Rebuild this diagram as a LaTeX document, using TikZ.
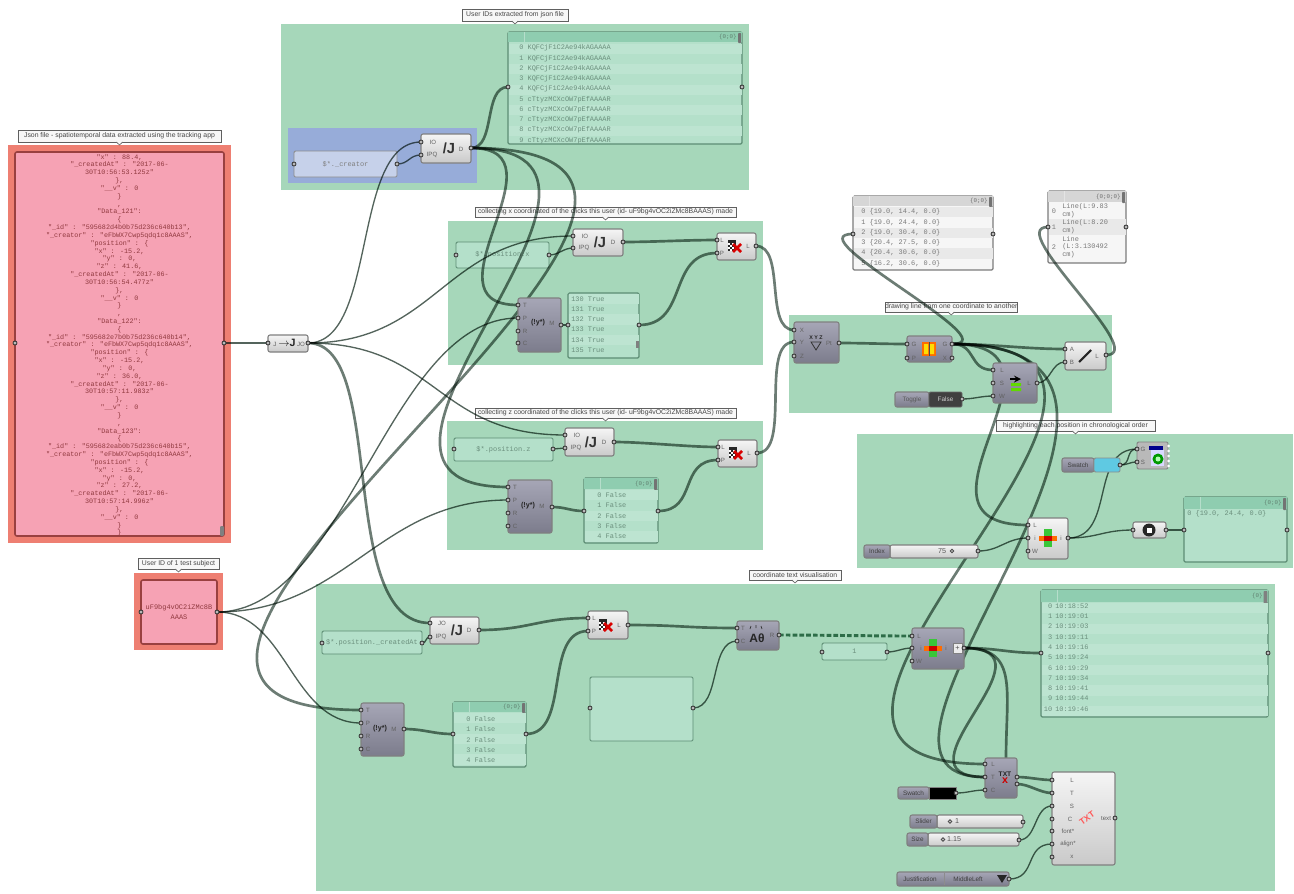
\documentclass[tikz,border=0pt]{standalone}
\usepackage{fontspec}
\setmainfont{Liberation Sans}
\newfontfamily\monof{Liberation Mono}
\pgfdeclarelayer{grp}
\pgfdeclarelayer{wires}
\pgfsetlayers{grp,wires,main}
\definecolor{grpgreen}{HTML}{A6D7BA}
\definecolor{grpblue}{HTML}{97ACD9}
\definecolor{grpred}{HTML}{EE7F72}
\definecolor{pinkp}{HTML}{F6A2B4}
\definecolor{pbodyg}{HTML}{B4E0CA}
\definecolor{pheadg}{HTML}{8FCDB0}
\definecolor{pstripeg}{HTML}{BDE4D1}
\definecolor{pedgeg}{HTML}{5D8D74}
\definecolor{pbodyw}{HTML}{F6F6F6}
\definecolor{pheadw}{HTML}{D6D6D6}
\definecolor{pstripew}{HTML}{E9E9E9}
\definecolor{pedgew}{HTML}{7C7C7C}
\definecolor{wirec}{RGB}{108,124,116}
\definecolor{wirethin}{RGB}{84,100,92}
\definecolor{wiredash}{RGB}{70,130,100}
\definecolor{txtg}{HTML}{6B8F7D}
\definecolor{txtw}{HTML}{7A7A7A}
\definecolor{darktop}{HTML}{A6A6B6}
\definecolor{darkbot}{HTML}{7C7C8C}
\definecolor{cyanp}{HTML}{5FC9E2}
\tikzset{
  x=0.75pt,y=-0.75pt,
  grpbox/.style={fill=grpgreen},
  capbox/.style={fill=gray!6,draw=gray!75!black,line width=0.6pt,font=\fontsize{5.15}{6}\selectfont,text=black!72},
  lightc/.style={draw=black!50,line width=0.8pt,rounded corners=1.5pt,top color=gray!8,bottom color=gray!42},
  darkc/.style={draw=black!50,line width=0.8pt,rounded corners=1.5pt,top color=darktop,bottom color=darkbot},
  parampanel/.style={fill=pbodyg,draw=pedgeg,line width=0.7pt,rounded corners=1pt},
  portn/.style={circle,draw=black!80,fill=gray!55,line width=0.6pt,minimum size=3pt,inner sep=0pt},
  plab/.style={font=\fontsize{4.6}{5}\selectfont,text=black!62,inner sep=0pt},
  monol/.style={font=\monof\fontsize{5.2}{6}\selectfont,text=txtg,inner sep=0pt},
  wthin/.style={draw=wirethin,blend mode=multiply,line width=1pt},
  wthick/.style={draw=wirec,blend mode=multiply,line width=2pt},
  wdash/.style={draw=wiredash,blend mode=multiply,line width=2.2pt,dash pattern=on 3.5pt off 1.6pt},
  jbig/.style={font=\bfseries\fontsize{11}{12}\selectfont,text=black!80,inner sep=0pt},
}
\newcounter{labn}
\newcommand\lab[4][plab]{\stepcounter{labn}\node[#1] (lab\arabic{labn}) at (#2,#3) {#4};}
\newcommand\llab[4][monol]{\stepcounter{labn}\node[#1,anchor=west] (lab\arabic{labn}) at (#2,#3) {#4};}
\newcommand\bx[7][]{%
  \pgfmathsetlengthmacro\bxw{(#5-#3)*0.75pt}%
  \pgfmathsetlengthmacro\bxh{(#6-#4)*0.75pt}%
  \node[anchor=north west,inner sep=0pt,outer sep=0pt,minimum width=\bxw,minimum height=\bxh,#1] (#2) at (#3,#4) {#7};}
\newcommand\capt[6]{%
  \bx[capbox]{#1}{#2}{#3}{#4}{#5}{#6}%
  \fill[gray!6,draw=gray!75!black,line width=0.5pt] ([xshift=-2.4pt]#1.south) -- ([yshift=-2.2pt]#1.south) -- ([xshift=2.4pt]#1.south);}
\newcommand\strips[5]{\foreach \k in {0,2,...,#5}{\pgfmathsetmacro\ya{#3+\k*#4}\pgfmathsetmacro\yb{\ya+#4}\fill[#1] (#2,\ya) rectangle ++(\stripw,#4);}}
% list panel: kind, name, x1,y1,x2,y2, header bottom, badge
\newcommand\listpanel[8]{%
  \bx[fill=pbody#1,draw=pedge#1,line width=0.9pt,rounded corners=1pt]{#2}{#3}{#4}{#5}{#6}{}%
  \fill[phead#1] (#3,#4) rectangle (#5,#7);
  \draw[white,opacity=.35,line width=0.4pt] (#3+16,#4) -- (#3+16,#7);
  \stepcounter{labn}\node[anchor=east,font=\monof\fontsize{4.4}{5}\selectfont,text=txt#1!90!black,inner sep=0pt] (lab\arabic{labn}) at (#5-5,{(#4+#7)/2}) {#8};
  \fill[black!55,rounded corners=0.6pt] (#5-4,#4+1) rectangle (#5-0.8,#7+1);
}
\newcommand\port[3]{\node[portn] (#1) at (#2,#3) {};}
\newcommand\wire[5][wthin]{\draw[#1] (#2.center) .. controls +(#4,0) and +(-#5,0) .. (#3.center);}
\newcommand\cullicon[2]{%
  \fill[black!85] (#1-5,#2-6) rectangle (#1+3,#2+5);
  \foreach \a/\b in {-5/-3,-1/-3,-3/-1,1/-1,-5/1,-1/1,-3/3,1/3}{\fill[white] (#1+\a,#2+\b) rectangle ++(2,2);}
  \draw[red!85!black,line width=2pt] (#1,#2-2) -- (#1+8,#2+6) (#1,#2+6) -- (#1+8,#2-2);}
\newcommand\itemicon[2]{%
  \fill[green!55!gray] (#1-4,#2-9) rectangle (#1+4,#2+9);
  \fill[orange!85!red] (#1-9,#2-2.5) rectangle (#1+9,#2+2.5);
  \fill[red!80!black] (#1-4,#2-2.5) rectangle (#1+4,#2+2.5);}
\begin{document}
\begin{tikzpicture}
\useasboundingbox (0,0) rectangle (1294,893);
\begin{pgfonlayer}{grp}
\fill[white] (0,0) rectangle (1294,893);
% ---------- groups
\bx[fill=grpred]{redA}{8}{145}{231}{543}{}
\bx[fill=pinkp,draw=black!30!red!50!gray,line width=1.2pt,rounded corners=1.5pt]{jsonp}{15}{152}{224}{536}{}
\bx[fill=grpred]{redB}{134}{573}{223}{650}{}
\bx[fill=pinkp,draw=black!30!red!50!gray,line width=1.2pt,rounded corners=1.5pt]{idp}{141}{580}{217}{644}{}
\bx[grpbox]{g1}{281}{24}{749}{190}{}
\bx[fill=grpblue]{g1b}{288}{128}{477}{183}{}
\bx[grpbox]{g2}{448}{221}{763}{365}{}
\bx[grpbox]{g3}{447}{421}{763}{550}{}
\bx[grpbox]{g4}{789}{315}{1112}{413}{}
\bx[grpbox]{g5}{857}{434}{1293}{568}{}
\bx[grpbox]{g6}{316}{584}{1275}{891}{}
% ---------- captions
\capt{c0}{18}{130}{221}{142}{Json file - spatiotemporal data extracted using the tracking app}
\capt{c1}{462}{9}{568}{21}{User IDs extracted from json file}
\capt{c2}{475}{207}{736}{217}{collecting x coordinated of the clicks this user (id- uF9bg4vOC2iZMc8BAAAS) made}
\capt{c3}{475}{408}{736}{418}{collecting z coordinated of the clicks this user (id- uF9bg4vOC2iZMc8BAAAS) made}
\capt{c4}{885}{302}{1016}{312}{drawing line from one coordinate to another}
\capt{c5}{996}{420}{1155}{431}{highlighting each position in chronological order}
\capt{c6}{749}{570}{841}{580}{coordinate text visualisation}
\capt{c7}{138}{558}{219}{569}{User ID of 1 test subject}
% ---------- json text
\stepcounter{labn}
\node[anchor=north,align=center,inner sep=0pt,font=\monof\fontsize{5.05}{5.87}\selectfont,text=red!35!black!65!pinkp] (jsontext) at (119.5,154) {%
"x" : 88.4,\\"\_createdAt" : "2017-06-\\30T10:56:53.125z"\\\},\\"\_\_v" : 0\\\}\\,\\
"Data\_121":\\\{\\"\_id" : "595682d4b0b75d236c640b13",\\"\_creator" : "eFbWX7Cwp5qdq1c8AAAS",\\"position" : \{\\"x" : -15.2,\\"y" : 0,\\"z" : 41.6,\\"\_createdAt" : "2017-06-\\30T10:56:54.477z"\\\},\\"\_\_v" : 0\\\}\\,\\
"Data\_122":\\\{\\"\_id" : "595682e7b0b75d236c640b14",\\"\_creator" : "eFbWX7Cwp5qdq1c8AAAS",\\"position" : \{\\"x" : -15.2,\\"y" : 0,\\"z" : 36.0,\\"\_createdAt" : "2017-06-\\30T10:57:11.983z"\\\},\\"\_\_v" : 0\\\}\\,\\
"Data\_123":\\\{\\"\_id" : "595682eab0b75d236c640b15",\\"\_creator" : "eFbWX7Cwp5qdq1c8AAAS",\\"position" : \{\\"x" : -15.2,\\"y" : 0,\\"z" : 27.2,\\"\_createdAt" : "2017-06-\\30T10:57:14.996z"\\\},\\"\_\_v" : 0\\\}\\\}};
\fill[black!50,rounded corners=0.8pt] (220,526) rectangle (224,536);
\stepcounter{labn}
\node[align=center,inner sep=0pt,font=\monof\fontsize{5.2}{7}\selectfont,text=red!35!black!65!pinkp] (idtext) at (179,612) {uF9bg4vOC2iZMc8B\\AAAS};
% ---------- parameter panels
\bx[fill=grpblue!55!white,draw=black!45,line width=0.7pt,rounded corners=1pt]{pcre}{294}{151}{397}{177}{\monof\fontsize{5.2}{6}\selectfont\color{black!50}\$*.\_creator}
\bx[parampanel]{ppx}{456}{242}{549}{268}{\monof\fontsize{5.2}{6}\selectfont\color{txtg}\$*.position.x}
\bx[parampanel]{ppz}{454}{438}{553}{461}{\monof\fontsize{5.2}{6}\selectfont\color{txtg}\$*.position.z}
\bx[parampanel]{ppc}{322}{631}{422}{654}{\monof\fontsize{5.2}{6}\selectfont\color{txtg}\$*.position.\_createdAt}
\bx[parampanel]{pone}{822}{643}{887}{660}{\monof\fontsize{5.2}{6}\selectfont\color{txtg}1}
\bx[parampanel]{pempty}{590}{677}{693}{741}{}
% ---------- list: user IDs
\listpanel{g}{lids}{508}{32}{742}{144}{42}{\{0;0\}}
\def\stripw{233}\strips{pstripeg}{508.5}{43.5}{10.27}{8}
\foreach \i/\t in {0/KQFCjF1C2Ae94kAGAAAA,1/KQFCjF1C2Ae94kAGAAAA,2/KQFCjF1C2Ae94kAGAAAA,3/KQFCjF1C2Ae94kAGAAAA,4/KQFCjF1C2Ae94kAGAAAA,5/cTtyzMCXcOW7pEfAAAAR,6/cTtyzMCXcOW7pEfAAAAR,7/cTtyzMCXcOW7pEfAAAAR,8/cTtyzMCXcOW7pEfAAAAR,9/cTtyzMCXcOW7pEfAAAAR}{%
  \pgfmathsetmacro\yy{48+\i*10.27}
  \stepcounter{labn}\node[monol,anchor=west] (lab\arabic{labn}) at (519,\yy) {\i\ \t};}
% ---------- list: x True
\bx[fill=pbodyg,draw=pedgeg,line width=0.9pt,rounded corners=1pt]{ltrue}{568}{293}{639}{358}{}
\def\stripw{70}\strips{pstripeg}{568.5}{294}{10.2}{4}
\foreach \i/\t in {0/130,1/131,2/132,3/133,4/134,5/135}{%
  \pgfmathsetmacro\yy{299+\i*10.2}
  \stepcounter{labn}\node[monol,anchor=west] (lab\arabic{labn}) at (571,\yy) {\t\ True};}
\fill[black!50] (636,341) rectangle (639,348);
% ---------- list: z False
\listpanel{g}{lzf}{584}{478}{658}{543}{489}{\{0;0\}}
\def\stripw{73}\strips{pstripeg}{584.5}{490}{10.3}{4}
\foreach \i in {0,...,4}{%
  \pgfmathsetmacro\yy{495+\i*10.3}
  \stepcounter{labn}\node[monol,anchor=west] (lab\arabic{labn}) at (597,\yy) {\i\ False};}
% ---------- list: coordinates
\listpanel{w}{lpts}{853}{196}{993}{270}{206}{\{0;0\}}
\def\stripw{139}\strips{pstripew}{853.5}{207}{10.3}{4}
\foreach \i/\t in {0/{19.0, 14.4, 0.0},1/{19.0, 24.4, 0.0},2/{19.0, 30.4, 0.0},3/{20.4, 27.5, 0.0},4/{20.4, 30.6, 0.0},5/{16.2, 30.6, 0.0}}{%
  \pgfmathsetmacro\yy{212+\i*10.3}
  \stepcounter{labn}\node[monol,anchor=west,text=txtw] (lab\arabic{labn}) at (861,\yy) {\i\ \{\t\}};}
% ---------- list: lines
\listpanel{w}{llin}{1048}{191}{1126}{263}{202}{\{0;0;0\}}
\fill[pstripew] (1048.5,219) rectangle (1125.5,235);
\foreach \y/\t in {207/Line(L:9.83,215/cm),223/Line(L:8.20,231/cm),239/Line,247/(L:3.130492,255/cm)}{%
  \stepcounter{labn}\node[monol,anchor=west,text=txtw] (lab\arabic{labn}) at (1062,\y) {\t};}
\foreach \y/\t in {211/0,227/1,247/2}{%
  \stepcounter{labn}\node[monol,text=txtw] (lab\arabic{labn}) at (1054,\y) {\t};}
% ---------- list: highlighted point
\listpanel{g}{lone}{1184}{497}{1287}{562}{509}{\{0;0\}}
\stepcounter{labn}\node[monol,anchor=west] (lab\arabic{labn}) at (1187,514) {0 \{19.0, 24.4, 0.0\}};
% ---------- list: G6 False
\listpanel{g}{lcf}{453}{702}{526}{767}{712}{\{0;0\}}
\def\stripw{72}\strips{pstripeg}{453.5}{713}{10.3}{4}
\foreach \i in {0,...,4}{%
  \pgfmathsetmacro\yy{719+\i*10.3}
  \stepcounter{labn}\node[monol,anchor=west] (lab\arabic{labn}) at (466,\yy) {\i\ False};}
% ---------- list: times
\listpanel{g}{ltm}{1041}{590}{1268}{717}{602}{\{0\}}
\fill[black!50,rounded corners=0.6pt] (1263.5,591) rectangle (1267,610);
\def\stripw{226}\strips{pstripeg}{1041.5}{603}{10.3}{10}
\foreach \i/\t in {0/10:18:52,1/10:19:01,2/10:19:03,3/10:19:11,4/10:19:16,5/10:19:24,6/10:19:29,7/10:19:34,8/10:19:41,9/10:19:44,10/10:19:46}{%
  \pgfmathsetmacro\yy{606+\i*10.3}
  \stepcounter{labn}\node[monol,anchor=east] (lab\arabic{labn}) at (1052.5,\yy) {\i};
  \stepcounter{labn}\node[monol,anchor=west] (lab\arabic{labn}) at (1055,\yy) {\t};}
\end{pgfonlayer}
% ---------- JSON / J components
\bx[lightc]{ja}{421}{134}{471}{163}{}
\lab{433}{142}{IO}\lab{432}{155}{IPQ}\lab[jbig]{449}{148}{/J}\lab{461}{149}{D}
\bx[lightc]{jb}{573}{229}{623}{256}{}
\lab{585}{236}{IO}\lab{584}{248}{IPQ}\lab[jbig]{600}{242}{/J}\lab{613}{242}{D}
\bx[lightc]{jc}{565}{428}{614}{456}{}
\lab{577}{435}{IO}\lab{576}{448}{IPQ}\lab[jbig]{591}{442}{/J}\lab{604}{442}{D}
\bx[lightc]{jd}{430}{617}{479}{644}{}
\lab{442}{623}{JO}\lab{441}{637}{IPQ}\lab[jbig]{457}{630}{/J}\lab{469}{630}{D}
% ---------- to-json
\bx[lightc]{tj}{268}{335}{308}{352}{}
\lab{275}{344}{J}\lab[font=\bfseries\fontsize{8}{9}\selectfont,text=black!85,inner sep=0pt]{287}{343}{$\mathbf{\rightarrow}$J}\lab{301}{344}{JO}
% ---------- cull components
\bx[lightc]{cua}{717}{233}{756}{260}{}
\lab{722}{240}{L}\lab{722}{253}{P}\cullicon{733}{246}\lab{748}{246}{L}
\bx[lightc]{cub}{718}{440}{757}{467}{}
\lab{723}{447}{L}\lab{723}{460}{P}\cullicon{734}{453}\lab{749}{453}{L}
\bx[lightc]{cuc}{588}{611}{628}{639}{}
\lab{594}{618}{L}\lab{594}{631}{P}\cullicon{604}{625}\lab{619}{625}{L}
% ---------- match text
\bx[darkc]{ma}{518}{298}{561}{352}{}
\lab{525}{305}{T}\lab{525}{318}{P}\lab{525}{331}{R}\lab{525}{343}{C}
\lab[font=\bfseries\fontsize{5.4}{6}\selectfont,text=black!85,inner sep=0pt]{538}{323}{(!y*)}\lab{552}{323}{M}
\bx[darkc]{mb}{508}{480}{552}{533}{}
\lab{515}{487}{T}\lab{515}{500}{P}\lab{515}{513}{R}\lab{515}{526}{C}
\lab[font=\bfseries\fontsize{5.4}{6}\selectfont,text=black!85,inner sep=0pt]{528}{506}{(!y*)}\lab{542}{506}{M}
\bx[darkc]{mc}{361}{703}{404}{756}{}
\lab{368}{710}{T}\lab{368}{723}{P}\lab{368}{736}{R}\lab{368}{749}{C}
\lab[font=\bfseries\fontsize{5.4}{6}\selectfont,text=black!85,inner sep=0pt]{380}{729}{(!y*)}\lab{394}{729}{M}
% ---------- construct point
\bx[darkc]{pt}{794}{322}{839}{363}{}
\lab{802}{330}{X}\lab{802}{342}{Y}\lab{802}{356}{Z}\lab{829}{343}{Pt}
\lab[font=\bfseries\fontsize{4}{5}\selectfont,text=black!85,inner sep=0pt]{816}{338}{X Y Z}
\draw[black!80,line width=0.6pt] (811,342) -- (821,342) -- (816,350) -- cycle;
% ---------- sort
\bx[darkc]{so}{907}{336}{952}{362}{}
\lab{914}{344}{G}\lab{914}{358}{P}\lab{945}{344}{G}\lab{945}{358}{X}
\fill[orange!85!red] (922,342) rectangle (936,356);
\fill[yellow!80!orange] (924,344) rectangle (928,354) (930,344) rectangle (934,354);
\draw[black!70,line width=0.7pt] (929,342) -- (929,356);
% ---------- shift
\bx[darkc]{sh}{993}{363}{1037}{403}{}
\lab{1002}{370}{L}\lab{1002}{383}{S}\lab{1002}{396}{W}\lab{1029}{383}{L}
\draw[black,line width=1.3pt,-stealth] (1010,379) -- (1021,379);
\fill[green!55!yellow!85!black] (1011,383) rectangle (1021,386) (1011,388) rectangle (1021,391);
% ---------- line
\bx[lightc]{li}{1065}{342}{1106}{370}{}
\lab{1072}{349}{A}\lab{1072}{362}{B}\lab{1097}{356}{L}
\draw[black!85,line width=1.6pt] (1079,362) -- (1091,350);
% ---------- toggle
\bx[darkc]{tg}{895}{392}{929}{407}{\fontsize{4.8}{6}\selectfont\color{black!65}Toggle}
\bx[draw=black!60,fill=black!75,rounded corners=1pt,line width=0.7pt]{tf}{929}{392}{962}{407}{\fontsize{4.8}{6}\selectfont\color{white!80!black}False}
% ---------- highlight group
\bx[darkc]{swl}{1062}{458}{1094}{472}{\fontsize{4.8}{6}\selectfont\color{black!75}Swatch}
\bx[fill=cyanp,draw=black!45,line width=0.7pt,rounded corners=1pt]{swc}{1094}{458}{1120}{472}{}
\bx[draw=black!50,fill=gray!55,line width=0.7pt,rounded corners=1pt]{prv}{1137}{442}{1168}{469}{}
\foreach \yy in {446,451,456,461,466}{\fill[white] (1168.6,\yy) circle (1.4);}
\lab{1143}{449}{G}\lab{1143}{462}{S}
\fill[blue!55!black] (1149,446) rectangle (1163,450);
\fill[white!85!blue] (1151,450) rectangle (1164,466);
\fill[green!60!black] (1158,459) circle (5.5);
\fill[green!30!white] (1158,459) circle (2.5);
\bx[lightc]{ita}{1028}{518}{1068}{559}{}
\lab{1035}{525}{L}\lab{1035}{538}{i}\lab{1035}{551}{W}\lab{1061}{538}{i}
\itemicon{1048}{538}
\bx[lightc]{idxb}{890}{545}{978}{558}{}
\bx[darkc]{idxl}{864}{545}{890}{558}{\fontsize{4.8}{6}\selectfont\color{black!75}Index}
\lab[font=\fontsize{5.4}{6}\selectfont,text=black!65,inner sep=0pt]{942}{551}{75}
\draw[black!70,line width=0.7pt,fill=gray!30] (952,551) circle (1.8);
\bx[lightc]{hexn}{1133}{522}{1166}{538}{}
\fill[black!85] (1149,530) circle (6.5);
\fill[white] (1146.5,527.5) rectangle (1151.5,532.5);
% ---------- bottom group
\bx[darkc]{txa}{737}{621}{779}{650}{}
\lab{743}{628}{T}\lab{743}{641}{C}\lab{772}{635}{R}
\lab[font=\bfseries\fontsize{9}{10}\selectfont,text=black!85,inner sep=0pt]{757}{638}{Aθ}
\draw[black!80,line width=0.5pt] (750,629) -- (751,626) (756,628) -- (756,625) (762,629) -- (761,626);
\bx[darkc]{itb}{912}{628}{964}{669}{}
\lab{919}{636}{L}\lab{921}{648}{i}\lab{919}{661}{W}\lab{946}{648}{i}
\itemicon{933}{648}
\bx[fill=white!85!gray,draw=black!50,line width=0.4pt]{flat}{953}{643}{962}{653}{\fontsize{5.5}{6}\selectfont\color{black!70}+}
\bx[darkc]{txg}{985}{758}{1017}{798}{}
\lab{993}{764}{L}\lab{993}{777}{T}\lab{993}{790}{C}
\lab[font=\bfseries\fontsize{5}{6}\selectfont,text=black!85,inner sep=0pt]{1005}{774}{TXT}
\lab[font=\bfseries\fontsize{8}{9}\selectfont,text=red!80!black,inner sep=0pt]{1005}{781}{x}
\bx[lightc]{txb}{1052}{772}{1115}{865}{}
\lab{1072}{780}{L}\lab{1072}{793}{T}\lab{1072}{806}{S}\lab{1070}{819}{C}\lab{1068}{831}{font*}\lab{1068}{844}{align*}\lab{1072}{857}{x}\lab{1106}{819}{text}
\lab[rotate=35,font=\bfseries\fontsize{6.5}{7}\selectfont,text=red!65!white,inner sep=0pt]{1087}{818}{TXT}
\bx[darkc]{swbl}{898}{787}{929}{799}{\fontsize{4.8}{6}\selectfont\color{black!75}Swatch}
\bx[fill=black,draw=black!50,line width=0.6pt]{swbc}{929}{787}{956}{799}{}
\bx[lightc]{slb}{937}{815}{1023}{828}{}
\bx[darkc]{sll}{910}{815}{937}{828}{\fontsize{4.8}{6}\selectfont\color{black!75}Slider}
\draw[black!70,line width=0.7pt,fill=gray!30] (950,821.5) circle (1.8);
\lab[font=\fontsize{5.4}{6}\selectfont,text=black!65,inner sep=0pt]{957}{821.5}{1}
\bx[lightc]{szb}{928}{833}{1019}{846}{}
\bx[darkc]{szl}{907}{833}{928}{846}{\fontsize{4.8}{6}\selectfont\color{black!75}Size}
\draw[black!70,line width=0.7pt,fill=gray!30] (943,839.5) circle (1.8);
\lab[font=\fontsize{5.4}{6}\selectfont,text=black!65,inner sep=0pt]{954}{839.5}{1.15}
\bx[darkc]{jst}{897}{872}{1009}{886}{}
\lab[font=\fontsize{4.8}{6}\selectfont,text=black!75,inner sep=0pt]{920}{879}{Justification}
\lab[font=\fontsize{4.8}{6}\selectfont,text=black!75,inner sep=0pt]{968}{879}{MiddleLeft}
\draw[black!45,line width=0.4pt] (944,873) -- (944,885);
\fill[black!85] (997,875) -- (1007,875) -- (1002,883) -- cycle;
% ---------- ports
\port{jl}{15}{343}\port{jr}{224}{343}
\port{il}{141}{612}\port{ir}{217}{612}
\port{tji}{268}{343}\port{tjo}{308}{343}
\port{pcl}{294}{164}\port{pcr}{397}{164}
\port{jai}{421}{142}\port{jaq}{421}{155}\port{jao}{471}{148}
\port{lidl}{508}{87}\port{lidr}{742}{87}
\port{ppxl}{456}{255}\port{ppxr}{549}{255}
\port{jbi}{573}{236}\port{jbq}{573}{248}\port{jbo}{623}{242}
\port{cuaL}{717}{240}\port{cuaP}{717}{253}\port{cuao}{756}{246}
\port{maT}{518}{305}\port{maP}{518}{318}\port{maR}{518}{331}\port{maC}{518}{343}\port{mao}{561}{325}
\port{ltl}{568}{325}\port{ltr}{639}{325}
\port{ppzl}{454}{449}\port{ppzr}{553}{449}
\port{jci}{565}{435}\port{jcq}{565}{448}\port{jco}{614}{442}
\port{cubL}{718}{447}\port{cubP}{718}{460}\port{cubo}{757}{453}
\port{mbT}{508}{487}\port{mbP}{508}{500}\port{mbR}{508}{513}\port{mbC}{508}{526}\port{mbo}{552}{507}
\port{lzl}{584}{511}\port{lzr}{658}{511}
\port{ptX}{794}{330}\port{ptY}{794}{342}\port{ptZ}{794}{356}\port{pto}{839}{343}
\port{soG}{907}{344}\port{soP}{907}{358}\port{soo}{952}{344}\port{sox}{952}{358}
\port{shL}{993}{370}\port{shS}{993}{383}\port{shW}{993}{396}\port{sho}{1037}{383}
\port{liA}{1065}{349}\port{liB}{1065}{362}\port{lio}{1106}{355}
\port{tgo}{962}{399}
\port{lpl}{853}{234}\port{lpr}{993}{234}
\port{lll}{1048}{227}\port{llr}{1126}{227}
\port{swo}{1120}{465}\port{prG}{1137}{449}\port{prS}{1137}{462}
\port{itaL}{1028}{525}\port{itai}{1028}{538}\port{itaW}{1028}{551}\port{itao}{1068}{538}
\port{idxo}{978}{551}
\port{hxi}{1133}{530}\port{hxo}{1166}{530}
\port{lol}{1184}{530}\port{lor}{1287}{530}
\port{ppcl}{322}{643}\port{ppcr}{422}{643}
\port{jdi}{430}{623}\port{jdq}{430}{637}\port{jdo}{479}{630}
\port{cucL}{588}{618}\port{cucP}{588}{631}\port{cuco}{628}{625}
\port{txaT}{737}{628}\port{txaC}{737}{641}\port{txao}{779}{635}
\port{onel}{822}{652}\port{oner}{887}{652}
\port{empl}{590}{708}\port{empr}{693}{708}
\port{mcT}{361}{710}\port{mcP}{361}{723}\port{mcR}{361}{736}\port{mcC}{361}{749}\port{mco}{404}{729}
\port{lcl}{453}{734}\port{lcr}{526}{734}
\port{itbL}{912}{636}\port{itbi}{912}{648}\port{itbW}{912}{661}\port{itbo}{964}{648}
\port{tml}{1041}{653}\port{tmr}{1268}{653}
\port{txgL}{985}{764}\port{txgT}{985}{777}\port{txgC}{985}{790}\port{txgo}{1017}{777}\port{txgp}{1017}{784}
\port{txbL}{1052}{780}\port{txbT}{1052}{793}\port{txbS}{1052}{806}\port{txbC}{1052}{819}\port{txbF}{1052}{831}\port{txbA}{1052}{844}\port{txbX}{1052}{857}\port{txbo}{1115}{818}
\port{swbo}{956}{793}\port{slo}{1023}{822}\port{szo}{1019}{840}\port{jso}{1009}{879}
\coordinate (tagTop) at (1006,759);
% ---------- wires
\begin{pgfonlayer}{wires}
\wire{jr}{tji}{15}{15}
\wire{tjo}{jai}{70}{70}
\wire{tjo}{jbi}{130}{130}
\wire{tjo}{jci}{130}{130}
\wire[wthick]{tjo}{jdi}{80}{95}
\wire[wthick]{jao}{lidl}{25}{25}
\wire[wthick]{jao}{maT}{100}{100}
\wire[wthick]{jao}{mbT}{220}{220}
\wire[wthick]{jao}{mcT}{400}{400}
\wire{pcr}{jaq}{12}{12}
\wire{ir}{maP}{130}{130}
\wire{ir}{mbP}{130}{130}
\wire{ir}{mcP}{70}{70}
\wire{ppxr}{jbq}{10}{10}
\wire[wthick]{jbo}{cuaL}{30}{30}
\wire{mao}{ltl}{3}{3}
\wire[wthick]{ltr}{cuaP}{50}{50}
\wire[wthick]{cuao}{ptX}{30}{30}
\wire{ppzr}{jcq}{6}{6}
\wire[wthick]{jco}{cubL}{30}{30}
\wire[wthick]{mbo}{lzl}{14}{14}
\wire[wthick]{lzr}{cubP}{40}{40}
\wire[wthick]{cubo}{ptY}{35}{35}
\wire[wthick]{pto}{soG}{25}{25}
\wire[wthick]{soo}{liA}{40}{40}
\wire[wthick]{soo}{shL}{25}{25}
\wire[wthick]{soo}{lpl}{60}{60}
\wire[wthick]{soo}{itaL}{140}{140}
\wire[wthick]{soo}{txgL}{307}{307}
\wire[wthick]{soo}{txgT}{298}{185}
\wire{sho}{liB}{14}{14}
\wire{tgo}{shW}{12}{12}
\wire[wthick]{lio}{lll}{45}{45}
\wire{swo}{prG}{12}{12}
\wire{swo}{prS}{8}{8}
\wire{itao}{prG}{48}{48}
\wire{itao}{hxi}{30}{30}
\wire{idxo}{itai}{22}{22}
\wire{hxo}{lol}{8}{8}
\wire{ppcr}{jdq}{5}{5}
\wire[wthick]{jdo}{cucL}{50}{50}
\wire[wthick]{mco}{lcl}{20}{20}
\wire[wthick]{lcr}{cucP}{45}{45}
\wire[wthick]{cuco}{txaT}{50}{50}
\wire{empr}{txaC}{28}{28}
\wire[wdash]{txao}{itbL}{40}{40}
\wire{oner}{itbi}{10}{10}
\wire[wthick]{itbo}{tml}{35}{35}
\wire[wthick]{itbo}{txgT}{100}{100}
\draw[wthick] (itbo.center) .. controls +(55,0) and +(0,-70) .. (tagTop);
\wire[wthick]{txgo}{txbL}{12}{12}
\wire[wthick]{txgp}{txbT}{12}{12}
\wire{swbo}{txgC}{12}{12}
\wire{szo}{txbS}{18}{18}
\wire{jso}{txbA}{28}{28}
\end{pgfonlayer}
\end{tikzpicture}
\end{document}
